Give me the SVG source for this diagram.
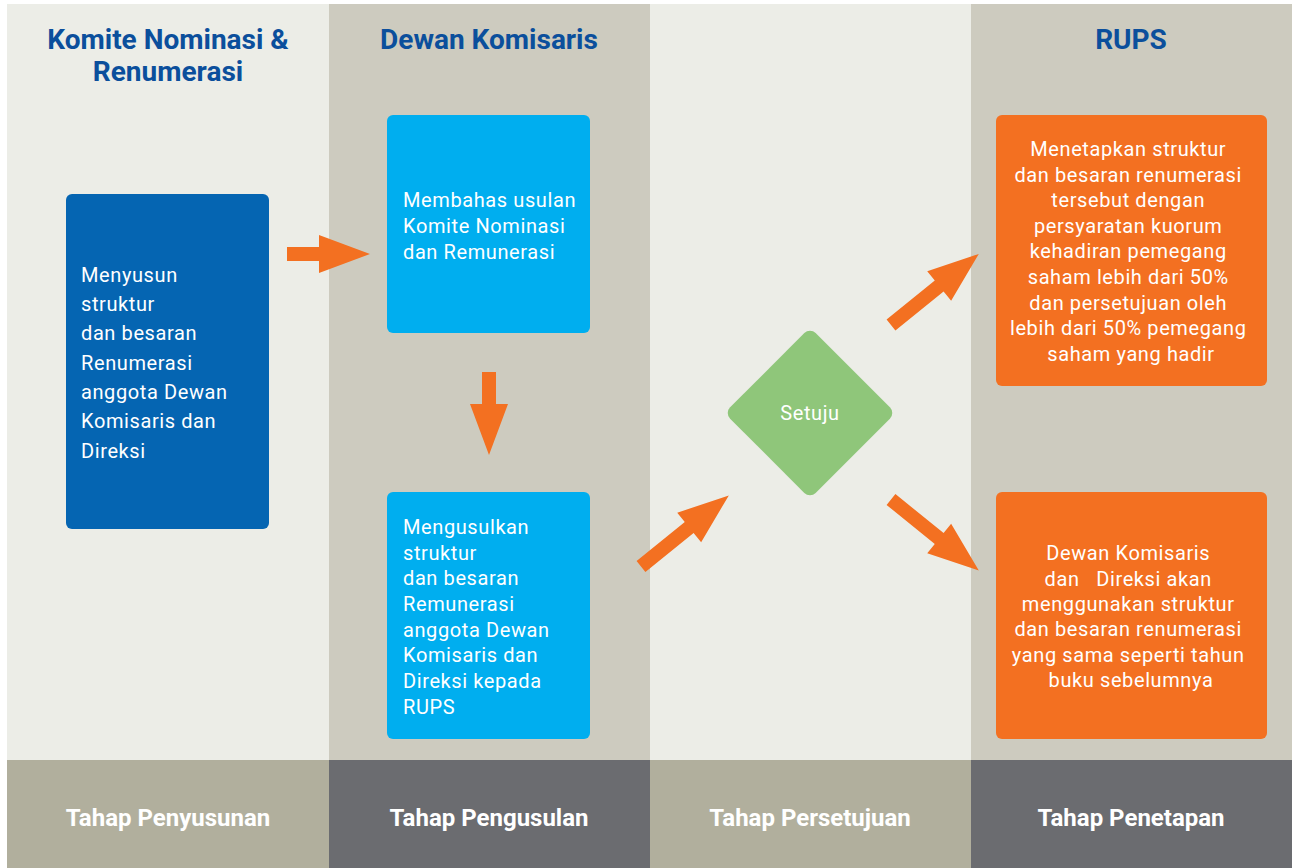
<svg xmlns="http://www.w3.org/2000/svg" width="1298" height="868" viewBox="0 0 1298 868">
<defs>
<style>
.hdr{font-family:Roboto,"Liberation Sans",sans-serif;font-weight:700;font-size:28px;fill:#0B4F9C;text-anchor:middle}
.ftr{font-family:Roboto,"Liberation Sans",sans-serif;font-weight:700;font-size:24px;fill:#FFFFFF;text-anchor:middle}
.txt{font-family:Roboto,"Liberation Sans",sans-serif;font-size:20px;fill:#FFFFFF;letter-spacing:0.6px}
.mid{text-anchor:middle}
.arr{fill:#F37021}
</style>
<path id="ar" d="M0,-7 H32 V-19 L83,0 L32,19 V7 H0 Z"/>
<path id="ard" d="M0,-7 H62 V-19 L113,0 L62,19 V7 H0 Z"/>
</defs>
<rect x="0" y="0" width="1298" height="868" fill="#FFFFFF"/>
<g id="columns">
<rect x="7" y="4" width="322" height="756" fill="#ECEDE7"/>
<rect x="329" y="4" width="321" height="756" fill="#CDCBBF"/>
<rect x="650" y="4" width="321" height="756" fill="#ECEDE7"/>
<rect x="971" y="4" width="321" height="756" fill="#CDCBBF"/>
<rect x="7" y="760" width="322" height="108" fill="#B1AF9D"/>
<rect x="329" y="760" width="321" height="108" fill="#6B6C70"/>
<rect x="650" y="760" width="321" height="108" fill="#B1AF9D"/>
<rect x="971" y="760" width="321" height="108" fill="#6B6C70"/>
</g>
<g id="headers">
<text class="hdr" x="168" y="49">Komite Nominasi &amp;</text>
<text class="hdr" x="168" y="81">Renumerasi</text>
<text class="hdr" x="489" y="49">Dewan Komisaris</text>
<text class="hdr" x="1131" y="49">RUPS</text>
</g>
<g id="footers">
<text class="ftr" x="168" y="826">Tahap Penyusunan</text>
<text class="ftr" x="489" y="826">Tahap Pengusulan</text>
<text class="ftr" x="810" y="826">Tahap Persetujuan</text>
<text class="ftr" x="1131" y="826">Tahap Penetapan</text>
</g>
<g id="node-menyusun">
<rect x="66" y="194" width="203" height="335" rx="6" fill="#0565B2"/>
<text class="txt" x="81">
<tspan x="81" y="282">Menyusun</tspan>
<tspan x="81" y="311">struktur</tspan>
<tspan x="81" y="340">dan besaran</tspan>
<tspan x="81" y="370">Renumerasi</tspan>
<tspan x="81" y="399">anggota Dewan</tspan>
<tspan x="81" y="428">Komisaris dan</tspan>
<tspan x="81" y="458">Direksi</tspan>
</text>
</g>
<g id="node-membahas">
<rect x="387" y="115" width="203" height="218" rx="6" fill="#00AEEF"/>
<text class="txt">
<tspan x="403" y="207">Membahas usulan</tspan>
<tspan x="403" y="233">Komite Nominasi</tspan>
<tspan x="403" y="259">dan Remunerasi</tspan>
</text>
</g>
<g id="node-mengusulkan">
<rect x="387" y="492" width="203" height="247" rx="6" fill="#00AEEF"/>
<text class="txt">
<tspan x="403" y="534">Mengusulkan</tspan>
<tspan x="403" y="560">struktur</tspan>
<tspan x="403" y="585">dan besaran</tspan>
<tspan x="403" y="611">Remunerasi</tspan>
<tspan x="403" y="637">anggota Dewan</tspan>
<tspan x="403" y="662">Komisaris dan</tspan>
<tspan x="403" y="688">Direksi kepada</tspan>
<tspan x="403" y="714">RUPS</tspan>
</text>
</g>
<g id="node-setuju">
<rect x="749.5" y="352.5" width="121" height="121" rx="8" fill="#8FC67A" transform="rotate(45 810 413)"/>
<text class="txt mid" x="810" y="420">Setuju</text>
</g>
<g id="node-menetapkan">
<rect x="996" y="115" width="271" height="271" rx="6" fill="#F37021"/>
<text class="txt mid">
<tspan x="1131" y="156">Menetapkan struktur</tspan>
<tspan x="1131" y="182">dan besaran renumerasi</tspan>
<tspan x="1131" y="207">tersebut dengan</tspan>
<tspan x="1131" y="233">persyaratan kuorum</tspan>
<tspan x="1131" y="258">kehadiran pemegang</tspan>
<tspan x="1131" y="284">saham lebih dari 50%</tspan>
<tspan x="1131" y="310">dan persetujuan oleh</tspan>
<tspan x="1131" y="335">lebih dari 50% pemegang</tspan>
<tspan x="1131" y="361">saham yang hadir</tspan>
</text>
</g>
<g id="node-dewan">
<rect x="996" y="492" width="271" height="247" rx="6" fill="#F37021"/>
<text class="txt mid">
<tspan x="1131" y="560">Dewan Komisaris</tspan>
<tspan x="1131" y="586" xml:space="preserve">dan   Direksi akan</tspan>
<tspan x="1131" y="611">menggunakan struktur</tspan>
<tspan x="1131" y="636">dan besaran renumerasi</tspan>
<tspan x="1131" y="662">yang sama seperti tahun</tspan>
<tspan x="1131" y="687">buku sebelumnya</tspan>
</text>
</g>
<g id="connectors">
<use href="#ar" class="arr" transform="translate(287 254)"/>
<use href="#ar" class="arr" transform="translate(489 372) rotate(90)"/>
<use href="#ard" class="arr" transform="translate(641 566.5) rotate(-39)"/>
<use href="#ard" class="arr" transform="translate(891 325) rotate(-39)"/>
<use href="#ard" class="arr" transform="translate(891 499.5) rotate(39)"/>
</g>
</svg>
